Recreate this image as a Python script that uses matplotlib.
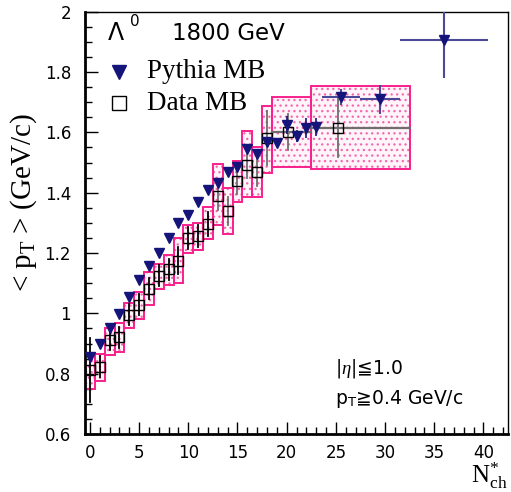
import matplotlib
matplotlib.use('Agg')
import matplotlib.pyplot as plt
from matplotlib.patches import Rectangle
from matplotlib.ticker import MultipleLocator

plt.rcParams['mathtext.fontset'] = 'custom'
plt.rcParams['mathtext.rm'] = 'Liberation Serif'
plt.rcParams['mathtext.it'] = 'Liberation Serif:italic'
plt.rcParams['mathtext.sf'] = 'DejaVu Sans'
plt.rcParams['hatch.linewidth'] = 0.9

# ---------------- data ----------------
# Pythia MB (integer N*_ch)
pythia_n = [0, 1, 2, 3, 4, 5, 6, 7, 8, 9, 10, 11, 12, 13, 14, 15, 16, 17, 18, 19,
            20, 21, 22, 23]
pythia_pt = [0.856, 0.898, 0.950, 0.998, 1.055, 1.112, 1.157, 1.199, 1.251, 1.300,
             1.325, 1.369, 1.408, 1.432, 1.470, 1.484, 1.544, 1.529, 1.569, 1.564,
             1.625, 1.588, 1.614, 1.619]
pythia_err = [0.0, 0.0, 0.0, 0.0, 0.0, 0.0, 0.0, 0.0, 0.0, 0.0,
              0.0, 0.0, 0.0, 0.0, 0.0, 0.0, 0.0, 0.0, 0.0, 0.0,
              0.03, 0.02, 0.033, 0.03]
# Pythia MB (wide bins)
pythia_bin_n = [25.55, 29.5, 36.0]
pythia_bin_pt = [1.718, 1.710, 1.906]
pythia_bin_lo = [23.6, 27.5, 31.5]
pythia_bin_hi = [27.5, 31.5, 40.5]
pythia_bin_err = [0.027, 0.048, 0.127]

# Data MB
data_n = [0, 1, 2, 3, 4, 5, 6, 7, 8, 9, 10, 11, 12, 13, 14, 15, 16, 17, 18, 20.1, 25.2]
data_pt = [0.812, 0.823, 0.912, 0.921, 0.995, 1.028, 1.081, 1.125, 1.146, 1.175,
           1.250, 1.256, 1.297, 1.389, 1.339, 1.440, 1.493, 1.470, 1.582, 1.602, 1.616]
data_stat = [0.105, 0.035, 0.035, 0.035, 0.035, 0.035, 0.035, 0.035, 0.035, 0.045,
             0.037, 0.037, 0.040, 0.045, 0.047, 0.044, 0.044, 0.047, 0.090, 0.060, 0.097]
data_bin_lo = [-0.5, 0.5, 1.5, 2.5, 3.5, 4.5, 5.5, 6.5, 7.5, 8.5, 9.5, 10.5, 11.5,
               12.5, 13.5, 14.5, 15.5, 16.5, 17.5, 18.5, 22.5]
data_bin_hi = [0.5, 1.5, 2.5, 3.5, 4.5, 5.5, 6.5, 7.5, 8.5, 9.5, 10.5, 11.5, 12.5,
               13.5, 14.5, 15.5, 16.5, 17.5, 18.5, 22.5, 32.5]
data_sys_lo = [0.749, 0.777, 0.862, 0.873, 0.950, 0.980, 1.028, 1.080, 1.094, 1.100,
               1.199, 1.210, 1.245, 1.292, 1.263, 1.368, 1.385, 1.385, 1.464, 1.486, 1.479]
data_sys_hi = [0.868, 0.866, 0.950, 0.969, 1.035, 1.072, 1.138, 1.164, 1.193, 1.249,
               1.293, 1.299, 1.354, 1.494, 1.415, 1.505, 1.605, 1.553, 1.688, 1.718, 1.754]

xticks = [0, 5, 10, 15, 20, 25, 30, 35, 40]
yticks = [0.6, 0.8, 1.0, 1.2, 1.4, 1.6, 1.8, 2.0]
ytick_labels = ['0.6', '0.8', '1', '1.2', '1.4', '1.6', '1.8', '2']

# ---------------- figure ----------------
W, H = 511, 492
fig = plt.figure(figsize=(W / 100, H / 100), dpi=100)
ax = fig.add_axes([85 / W, (H - 434) / H, (508 - 85) / W, (434 - 11.7) / H])
ax.set_xlim(-0.5, 42.5)
ax.set_ylim(0.6, 2.0)

SANS = ['DejaVu Sans', 'Noto Sans CJK JP']
PINK_EDGE = '#f8208c'
PINK_DOT = '#f06aae'
NAVY = '#14147a'

# systematic boxes
for lo, hi, ylo, yhi in zip(data_bin_lo, data_bin_hi, data_sys_lo, data_sys_hi):
    ax.add_patch(Rectangle((lo, ylo), hi - lo, yhi - ylo, facecolor='#fff4f9',
                           edgecolor=PINK_DOT, hatch='...', linewidth=0, zorder=1))
    ax.add_patch(Rectangle((lo, ylo), hi - lo, yhi - ylo, fill=False,
                           edgecolor=PINK_EDGE, linewidth=1.4, zorder=2))

# data statistical errors
for n, pt, e, lo, hi in zip(data_n, data_pt, data_stat, data_bin_lo, data_bin_hi):
    col = 'black' if n < 12.5 else '#6e6e6e'
    ax.plot([n, n], [pt - e, pt + e], color=col, lw=1.3, zorder=3)
    if hi - lo > 1.5:
        ax.plot([lo, hi], [pt, pt], color='#6e6e6e', lw=1.6, zorder=3)
ax.plot(data_n, data_pt, linestyle='none', marker='s', markersize=6.5,
        markerfacecolor='none', markeredgecolor='black', markeredgewidth=1.0, zorder=4)

# Pythia
ax.errorbar(pythia_n, pythia_pt, yerr=pythia_err, fmt='v', color=NAVY, ecolor=NAVY,
            elinewidth=1.2, markersize=7, capsize=0, zorder=5)
xerr = [[c - l for c, l in zip(pythia_bin_n, pythia_bin_lo)],
        [h - c for c, h in zip(pythia_bin_n, pythia_bin_hi)]]
ax.errorbar(pythia_bin_n, pythia_bin_pt, yerr=pythia_bin_err, xerr=xerr, fmt='v',
            color=NAVY, ecolor='#4a4a96', elinewidth=1.5, markersize=7, capsize=0, zorder=5)

# axes styling
ax.xaxis.set_major_locator(MultipleLocator(5))
ax.xaxis.set_minor_locator(MultipleLocator(1))
ax.yaxis.set_major_locator(MultipleLocator(0.2))
ax.yaxis.set_minor_locator(MultipleLocator(0.05))
ax.set_xticks(xticks)
ax.set_yticks(yticks)
ax.set_yticklabels(ytick_labels)
ax.tick_params(which='both', direction='in', top=False, right=False, color='black')
ax.tick_params(which='major', length=9, width=1.0, pad=7, labelsize=12)
ax.tick_params(which='minor', length=5, width=1.0)
ax.tick_params(axis='y', which='major', pad=10)
for lab in ax.get_xticklabels() + ax.get_yticklabels():
    lab.set_family(SANS)
for side in ['left', 'bottom']:
    ax.spines[side].set_linewidth(2.0)
for side in ['top', 'right']:
    ax.spines[side].set_linewidth(1.0)

# labels
fig.text(24 / W, 1 - 203 / H, r'< p$_{\mathrm{T}}$ > (GeV/c)', rotation=90,
         family='Liberation Serif', fontsize=21, ha='center', va='center')
fig.text(508 / W, 1 - 483 / H, r'N$^{*}_{\mathrm{ch}}$', family='Liberation Serif',
         fontsize=18, ha='right', va='baseline')

# header
fig.text(108 / W, 1 - 33 / H, '\u039b', family=SANS, fontsize=17, va='center', ha='left')
fig.text(130 / W, 1 - 21 / H, '0', family=SANS, fontsize=11, va='center', ha='left')
fig.text(172 / W, 1 - 33 / H, '1800 GeV', family=SANS, fontsize=16.5, va='center', ha='left')

# legend
ax.plot([119.3 / W], [1 - 72 / H], transform=fig.transFigure, marker='v', color=NAVY,
        markersize=10, linestyle='none', clip_on=False)
fig.text(147 / W, 1 - 72 / H, 'Pythia MB', family='Liberation Serif', fontsize=19.5,
         va='center', ha='left')
ax.plot([119.3 / W], [1 - 103 / H], transform=fig.transFigure, marker='s',
        markerfacecolor='none', markeredgecolor='black', markersize=10, markeredgewidth=1.0,
        linestyle='none', clip_on=False)
fig.text(147 / W, 1 - 103 / H, 'Data MB', family='Liberation Serif', fontsize=19.5,
         va='center', ha='left')

# cuts
fig.text(335 / W, 1 - 368 / H, r'|$\eta$|' + '\u2266' + '1.0', family=SANS, fontsize=13.5,
         va='center', ha='left')
fig.text(335 / W, 1 - 399 / H, r'p$_{\mathsf{T}}$' + '\u2267' + '0.4 GeV/c', family=SANS,
         fontsize=13.5, va='center', ha='left')

fig.savefig('out.png', dpi=100)
